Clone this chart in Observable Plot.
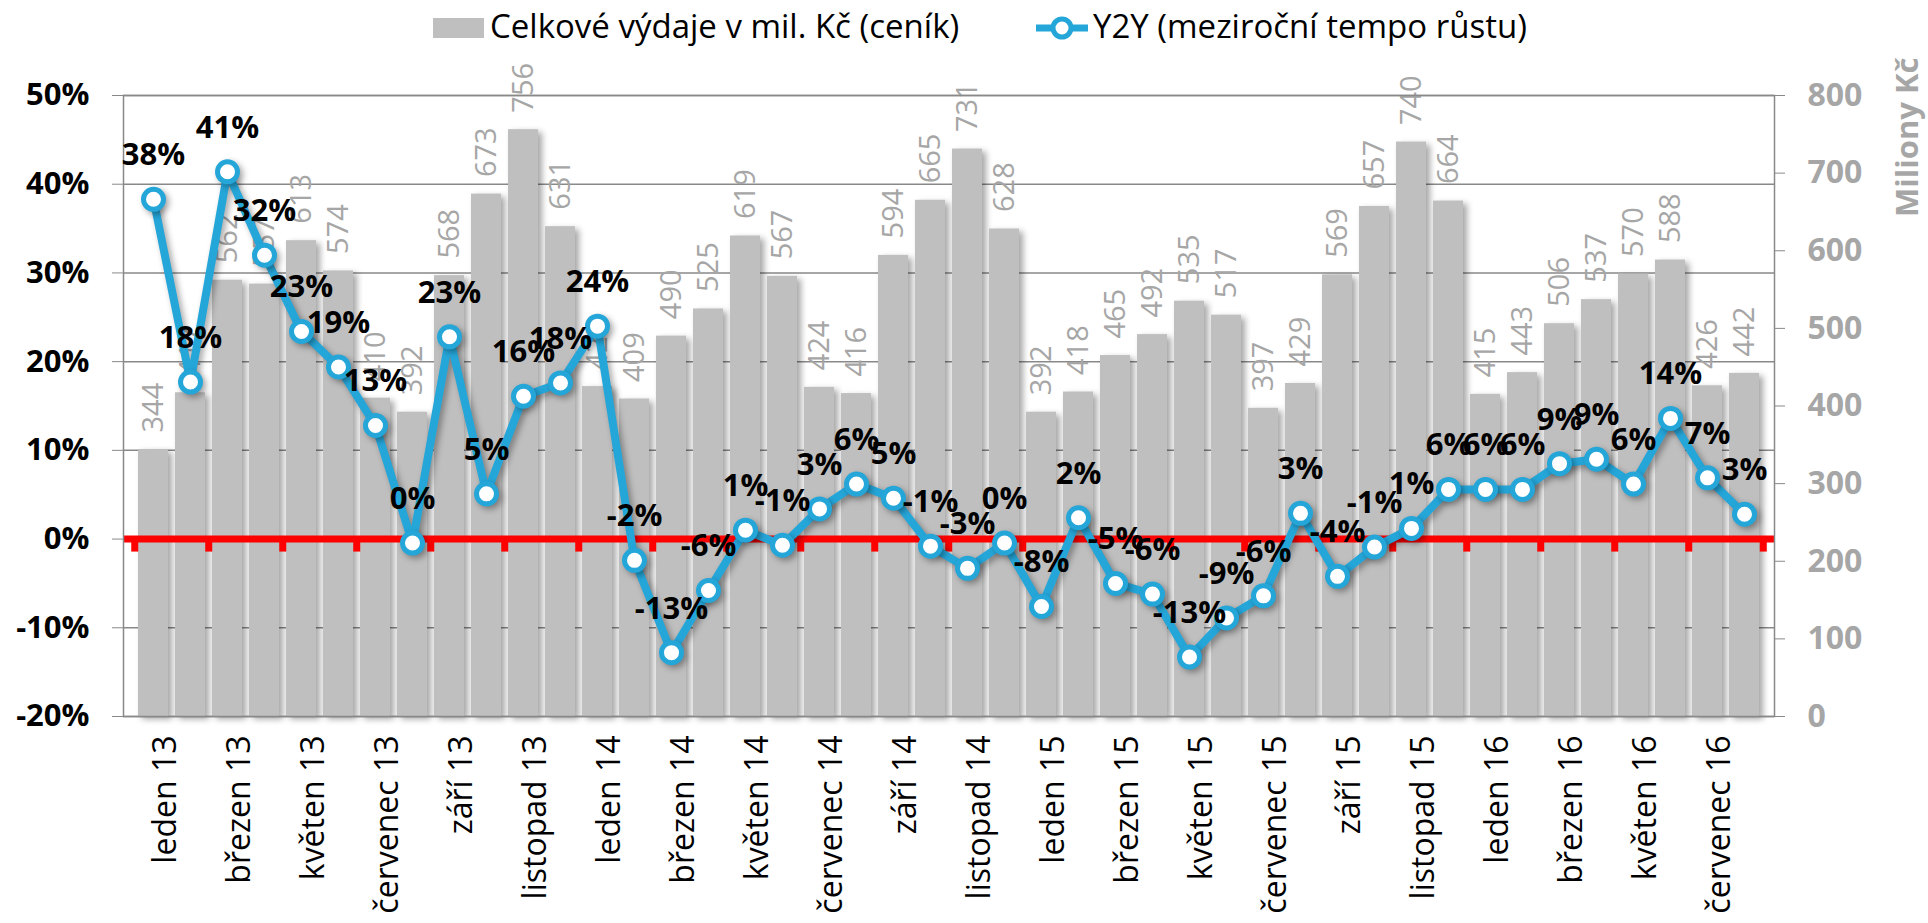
<!DOCTYPE html>
<html><head><meta charset="utf-8">
<script src="https://cdn.jsdelivr.net/npm/d3@7"></script>
<script src="https://cdn.jsdelivr.net/npm/@observablehq/plot@0.6"></script>
<style>
body{margin:0;background:#fff;}
#wrap{position:relative;width:1928px;height:923px;overflow:hidden;font-family:"Open Sans",sans-serif;}
.leg{position:absolute;font-size:33px;color:#000;white-space:nowrap;line-height:1;}
#chart svg g[aria-label="bar"]{filter:drop-shadow(4px 3px 3px rgba(0,0,0,0.35));}
#chart svg g[aria-label="line"], #chart svg g[aria-label="dot"]{filter:drop-shadow(3px 3px 3px rgba(0,0,0,0.35));}
</style></head>
<body><div id="wrap"><div id="chart"></div>
<div class="leg" style="left:433px;top:18px;width:51px;height:20px;background:#BFBFBF"></div>
<div class="leg" style="left:490px;top:9px">Celkové výdaje v mil. Kč (ceník)</div>
<svg class="leg" style="left:1034px;top:14px" width="56" height="28"><line x1="2" y1="14" x2="54" y2="14" stroke="#25A6D9" stroke-width="7"/><circle cx="28" cy="14" r="9" fill="#fff" stroke="#25A6D9" stroke-width="5"/></svg>
<div class="leg" style="left:1093px;top:9px">Y2Y (meziroční tempo růstu)</div>
</div>
<script>
const categories = [
 "leden 13","únor 13","březen 13","duben 13","květen 13","červen 13","červenec 13","srpen 13","září 13","říjen 13","listopad 13","prosinec 13",
 "leden 14","únor 14","březen 14","duben 14","květen 14","červen 14","červenec 14","srpen 14","září 14","říjen 14","listopad 14","prosinec 14",
 "leden 15","únor 15","březen 15","duben 15","květen 15","červen 15","červenec 15","srpen 15","září 15","říjen 15","listopad 15","prosinec 15",
 "leden 16","únor 16","březen 16","duben 16","květen 16","červen 16","červenec 16","srpen 16"];
const spending = [344,417,562,557,613,574,410,392,568,673,756,631,
 425,409,490,525,619,567,424,416,594,665,731,628,
 392,418,465,492,535,517,397,429,569,657,740,664,
 415,443,506,537,570,588,426,442];
const growth = [38.3,17.7,41.4,32.0,23.4,19.4,12.8,-0.45,22.8,5.1,16.1,17.6,
 24.0,-2.4,-12.8,-5.8,1.0,-0.7,3.4,6.2,4.6,-0.8,-3.3,-0.45,
 -7.6,2.4,-5.0,-6.2,-13.3,-8.9,-6.4,2.9,-4.2,-0.9,1.2,5.6,
 5.6,5.6,8.5,9.0,6.2,13.6,6.9,2.8];
const pctTicks = [-20,-10,0,10,20,30,40,50];
const kcTicks = [0,100,200,300,400,500,600,700,800];

const W=1928,H=923,ML=123,MR=154,MT=95,MB=207;
const pMin=-20,pMax=50,kcMax=800;
const kcToP = v => pMin + v*(pMax-pMin)/kcMax;
const pToKc = p => (p-pMin)*kcMax/(pMax-pMin);
const step = (W-ML-MR)/categories.length;
const pxPerP = (H-MT-MB)/(pMax-pMin);
const tickLenP = 13/pxPerP;
const evenCats = categories.filter((d,i)=>i%2===0);
const data = categories.map((m,i)=>({m, kc: spending[i], g: growth[i]}));
const fmtP = v => `${Math.round(v)}%`;
const blue = "#25A6D9", grid = "#898989", red = "#FF0000";

const chart = Plot.plot({
  width: W, height: H, marginLeft: ML, marginRight: MR, marginTop: MT, marginBottom: MB,
  style: {fontFamily: "'Open Sans', sans-serif", background: "white", overflow: "visible"},
  x: {type: "band", domain: categories, paddingInner: 0.2, paddingOuter: 0.1, align: 0.5},
  y: {domain: [pMin, pMax]},
  marks: [
    Plot.gridY(pctTicks, {stroke: grid, strokeOpacity: 1, strokeWidth: 1.5}),
    Plot.barY(data, {x: "m", y1: () => kcToP(0), y2: d => kcToP(d.kc), fill: "#BFBFBF"}),
    Plot.text(data, {x: "m", y: d => kcToP(d.kc), text: d => String(d.kc), rotate: -90, textAnchor: "start", dy: -17, fill: "#A6A6A6", fontSize: 29}),
    Plot.ruleY([0], {stroke: red, strokeWidth: 7}),
    Plot.ruleX(evenCats, {x: d => d, y1: 0, y2: -tickLenP, stroke: red, strokeWidth: 7, dx: -step/2}),
    Plot.ruleX([categories[categories.length-1]], {x: d => d, y1: 0, y2: -tickLenP, stroke: red, strokeWidth: 7, dx: step/2}),
    Plot.frame({stroke: grid, strokeWidth: 1.5}),
    Plot.line(data, {x: "m", y: "g", stroke: blue, strokeWidth: 8}),
    Plot.dot(data, {x: "m", y: "g", r: 10, fill: "white", stroke: blue, strokeWidth: 5}),
    Plot.text(data, {x: "m", y: "g", text: d => fmtP(d.g), dy: -44, fontWeight: "bold", fontSize: 31, fill: "black"}),
    Plot.axisY(pctTicks, {anchor: "left", label: null, tickSize: 11, tickPadding: 23, tickFormat: d => `${d}%`, fontSize: 31, fontWeight: "bold", stroke: grid, fill: "black"}),
    Plot.axisY(kcTicks.map(kcToP), {anchor: "right", label: null, tickSize: 10, tickPadding: 23, tickFormat: d => String(Math.round(pToKc(d))), fontSize: 32, fontWeight: "bold", stroke: grid, fill: "#A6A6A6"}),
    Plot.axisX(evenCats, {anchor: "bottom", label: null, tickSize: 0, tickPadding: 19, rotate: -90, textAnchor: "end", fontSize: 32, fill: "black"}),
    Plot.text(["Miliony Kč"], {text: d => d, frameAnchor: "top-right", rotate: -90, textAnchor: "end", dx: 121, dy: -38, fontSize: 31, fontWeight: "bold", fill: "#A6A6A6"})
  ]
});
document.getElementById("chart").appendChild(chart);
</script>
</body></html>
